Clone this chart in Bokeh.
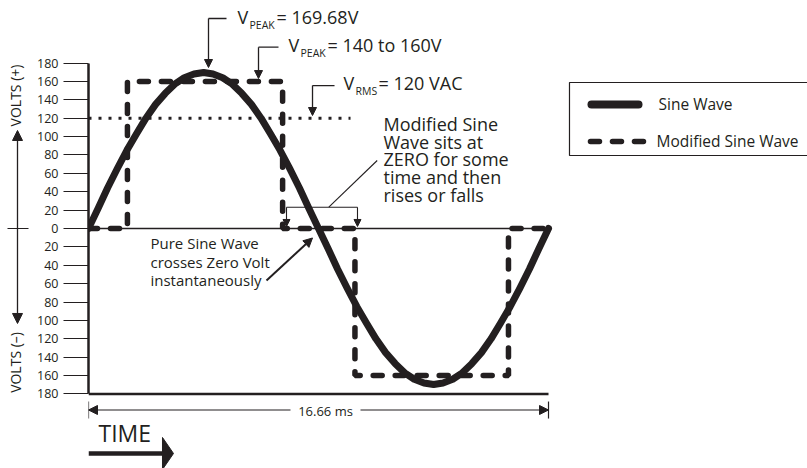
from math import pi
from bokeh.plotting import figure
from bokeh.layouts import row
from bokeh.models import Range1d, FixedTicker, Arrow, NormalHead
from bokeh.core.properties import value
from bokeh.embed import file_html
from bokeh.resources import INLINE

INK = "#231f20"
FONT = "Open Sans"

# ---------------- data ----------------
period_ms = 16.66
time_ms = [0.00, 0.35, 0.69, 1.04, 1.39, 1.74, 2.08, 2.43, 2.78, 3.12, 3.47, 3.82,
           4.17, 4.51, 4.86, 5.21, 5.55, 5.90, 6.25, 6.59, 6.94, 7.29, 7.64, 7.98,
           8.33, 8.68, 9.02, 9.37, 9.72, 10.07, 10.41, 10.76, 11.11, 11.45, 11.80, 12.15,
           12.50, 12.84, 13.19, 13.54, 13.88, 14.23, 14.58, 14.92, 15.27, 15.62, 15.97, 16.31,
           16.66]
sine_volts = [0, 22, 44, 65, 85, 103, 120, 135, 147, 157, 164, 168,
              169.7, 168, 164, 157, 147, 135, 120, 103, 85, 65, 44, 22,
              0, -22, -44, -65, -85, -103, -120, -135, -147, -157, -164, -168,
              -169.7, -168, -164, -157, -147, -135, -120, -103, -85, -65, -44, -22,
              0]
mod_time_ms = [0, 1.41, 1.41, 7.03, 7.03, 9.65, 9.65, 15.21, 15.21, 16.66]
mod_volts = [0, 0, 160, 160, 0, 0, -160, -160, 0, 0]
rms_time_ms = [0, 9.49]
rms_volts = [120, 120]
tick_values = [-180, -160, -140, -120, -100, -80, -60, -40, -20, 0,
               20, 40, 60, 80, 100, 120, 140, 160, 180]
tick_labels = ["180", "160", "140", "120", "100", "80", "60", "40", "20", "0",
               "20", "40", "60", "80", "100", "120", "140", "160", "180"]

y_range = Range1d(-261.04, 247.99)

# ---------------- left strip: VOLTS arrows ----------------
side = figure(width=30, height=468, output_backend="svg", toolbar_location=None,
              x_range=Range1d(0, 30), y_range=y_range,
              x_axis_location=None, y_axis_location=None,
              min_border_left=0, min_border_right=0, min_border_top=0, min_border_bottom=0)
side.outline_line_color = None
side.grid.grid_line_color = None
side.line([7, 28], [0, 0], line_width=1.2, line_color=INK)
for tip in (106.6, -103.3):
    side.add_layout(Arrow(x_start=17, y_start=0, x_end=17, y_end=tip,
                          end=NormalHead(size=10, fill_color=INK, line_color=INK),
                          line_width=1.3, line_color=INK))
side.text(x=[15, 15], y=[144.7, -145.7], text=["VOLTS (+)", "VOLTS (–)"], angle=pi / 2,
          text_align="center", text_baseline="middle", text_font=value(FONT),
          text_font_size="14px", text_color=INK)

# ---------------- main figure ----------------
p = figure(width=777, height=468, output_backend="svg", toolbar_location=None,
           x_range=Range1d(0, 26.04), y_range=y_range,
           x_axis_location=None, y_axis_location="left",
           min_border_left=58, min_border_right=0, min_border_top=0, min_border_bottom=0)
p.outline_line_color = None
p.grid.grid_line_color = None

ax = p.yaxis[0]
ax.ticker = FixedTicker(ticks=tick_values)
ax.major_label_overrides = {t: l for t, l in zip(tick_values, tick_labels)}
ax.bounds = (-180, 180)
ax.axis_line_width = 2.5
ax.axis_line_color = INK
ax.major_tick_line_color = INK
ax.major_tick_line_width = 1.2
ax.major_tick_out = 25
ax.major_tick_in = 0
ax.minor_tick_line_color = None
ax.major_label_standoff = 5
ax.major_label_text_font = FONT
ax.major_label_text_font_size = "12.5px"
ax.major_label_text_color = INK

# ---------------- series ----------------
p.line([0, period_ms], [0, 0], line_width=1.3, line_color=INK)
p.line([0, period_ms], [-180, -180], line_width=2.5, line_color=INK)
p.line(rms_time_ms, rms_volts, line_width=3, line_dash="3 7", line_color=INK)
p.line(mod_time_ms, mod_volts, line_width=5.5, line_dash="9 13", line_cap="round",
       line_color=INK)
p.line(time_ms, sine_volts, line_width=7, line_join="round", line_cap="round",
       line_color=INK)


def txt(x, y, s, size, align="left"):
    p.text(x=[x], y=[y], text=[s], text_font=value(FONT), text_font_size=size,
           text_align=align, text_baseline="middle", text_color=INK)


def arrow(x0, y0, x1, y1, size=8, width=1.3, head=True):
    p.add_layout(Arrow(x_start=x0, y_start=y0, x_end=x1, y_end=y1,
                       end=NormalHead(size=size, fill_color=INK, line_color=INK) if head else None,
                       line_width=width, line_color=INK))


# V_PEAK = 169.68V
txt(5.396, 229.8, "V", "18px")
txt(5.83, 220.8, "PEAK", "10.5px")
txt(6.809, 229.8, "= 169.68V", "18px")
p.line([4.346, 4.998], [228.4, 228.4], line_width=1.3, line_color=INK)
arrow(4.346, 228.4, 4.346, 175.1)

# V_PEAK = 140 to 160V
txt(7.243, 199.8, "V", "18px")
txt(7.678, 191.1, "PEAK", "10.5px")
txt(8.656, 199.8, "= 140 to 160V", "18px")
p.line([6.157, 6.881], [197.2, 197.2], line_width=1.3, line_color=INK)
arrow(6.157, 197.2, 6.157, 163.1)

# V_RMS = 120 VAC
txt(9.235, 158.3, "V", "18px")
txt(9.67, 149.2, "RMS", "10.5px")
txt(10.503, 158.3, "= 120 VAC", "18px")
p.line([8.113, 8.91], [155.5, 155.5], line_width=1.3, line_color=INK)
arrow(8.113, 155.5, 8.113, 122.9)

# Modified sine wave note
for yy, s in zip([113.6, 94.5, 75.4, 56.2, 36.9],
                 ["Modified Sine", "Wave sits at", "ZERO for some", "time and then", "rises or falls"]):
    txt(10.684, yy, s, "18px")
p.line([10.456, 8.703], [73.96, 23.17], line_width=1.1, line_color=INK)
p.line([7.171, 9.742], [23.17, 23.17], line_width=1.1, line_color=INK)
arrow(7.171, 23.17, 7.171, 2.2, size=7, width=1.1)
arrow(9.742, 23.17, 9.742, 2.2, size=7, width=1.1)

# Pure sine wave note
for yy, s in zip([-16.3, -35.9, -55.5],
                 ["Pure Sine Wave", "crosses Zero Volt", "instantaneously"]):
    txt(2.245, yy, s, "15px")
arrow(6.447, -56.6, 8.113, -10.3, size=9, width=2)

# period dimension
arrow(7.316, -197.4, 0, -197.4, size=9, width=1.2)
arrow(9.851, -197.4, period_ms, -197.4, size=9, width=1.2)
arrow(0, -188.2, 0, -206.7, head=False, width=1.2)
arrow(period_ms, -188.2, period_ms, -206.7, head=False, width=1.2)
txt(8.584, -199.0, "16.66 ms", "13px", align="center")

# TIME
txt(0.362, -222.4, "TIME", "23px")
p.line([0, 2.68], [-244.7, -244.7], line_width=4.5, line_color=INK)
p.patch([2.68, 3.078, 2.68], [-227.3, -244.7, -262.1], fill_color=INK, line_color=INK)

# Legend (drawn in the frame)
p.quad(left=[17.42], right=[30], top=[158.8], bottom=[79.4], fill_color=None,
       line_color=INK, line_width=1.2)
p.line([18.217, 19.92], [134.87, 134.87], line_width=8, line_cap="round", line_color=INK)
txt(20.644, 135.6, "Sine Wave", "15.5px")
p.line([18.18, 20.1], [94.6, 94.6], line_width=5.5, line_dash="9 13", line_cap="round",
       line_color=INK)
txt(20.571, 95.5, "Modified Sine Wave", "15.5px")

layout = row(side, p)
open("out.html", "w").write(file_html(layout, INLINE))
